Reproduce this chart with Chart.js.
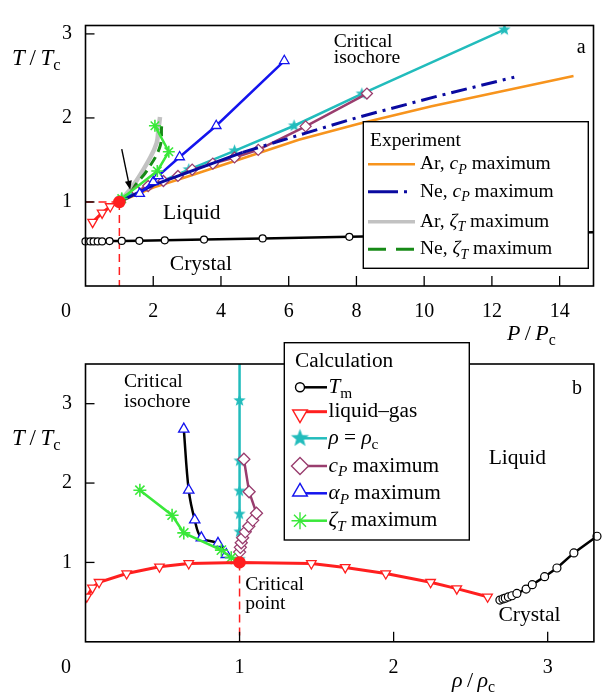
<!DOCTYPE html>
<html>
<head>
<meta charset="utf-8">
<script src="https://cdn.jsdelivr.net/npm/chart.js@4.4.1/dist/chart.umd.min.js"></script>
<style>
  html, body { margin: 0; padding: 0; background: #fff; }
  #wrap { position: relative; width: 602px; height: 695px; overflow: hidden; }
  canvas { position: absolute; left: 0; }
  #ca { top: 0; z-index: 1; }
  #cb { top: 335px; z-index: 2; }
</style>
</head>
<body>
<div id="wrap">
  <canvas id="ca" width="602" height="350"></canvas>
  <canvas id="cb" width="602" height="360"></canvas>
</div>
<script>
// ---------- (a) reduced temperature vs reduced pressure ----------
const critP = 1.0, critT = 1.0;
const meltP   = [0.0, 0.14, 0.24, 0.36, 0.49, 0.71, 1.07, 1.59, 2.34, 3.50, 5.23, 7.79, 15.0];
const meltT_a = [0.53, 0.53, 0.53, 0.53, 0.53, 0.535, 0.536, 0.538, 0.544, 0.552, 0.566, 0.585, 0.64];
const lgP   = [0.21, 0.49, 0.73, 1.0];
const lgT_a = [0.76, 0.87, 0.946, 1.0];
const isoP   = [1.0, 1.07, 3.05, 4.40, 6.16, 8.16, 12.37];
const isoT_a = [1.0, 1.04, 1.385, 1.609, 1.907, 2.287, 3.05];
const cpP   = [1.5, 1.85, 2.3, 2.73, 3.15, 3.76, 4.4, 5.1, 6.5, 8.31];
const cpT_a = [1.13, 1.19, 1.25, 1.31, 1.385, 1.456, 1.53, 1.62, 1.9, 2.29];
const apP   = [1.6, 2.0, 2.15, 2.78, 3.86, 5.87];
const apT_a = [1.1, 1.24, 1.31, 1.535, 1.907, 2.68];
const ztP   = [1.0, 1.07, 2.12, 2.46, 2.05];
const ztT_a = [1.0, 1.04, 1.368, 1.598, 1.907];
// experiment
const arCpP = [1.0, 2.0, 3.0, 5.1, 6.3, 8.07, 10.22, 14.41];
const arCpT = [1.0, 1.17, 1.3, 1.58, 1.74, 1.93, 2.14, 2.5];
const neCpP = [1.0, 2.0, 3.0, 4.64, 6.5, 8.07, 10.4, 12.66];
const neCpT = [1.0, 1.2, 1.35, 1.59, 1.82, 2.01, 2.26, 2.485];
const arZtP = [1.0, 1.27, 1.51, 1.9, 2.1, 2.15, 2.2];
const arZtT = [1.0, 1.125, 1.256, 1.52, 1.70, 1.85, 2.01];
const neZtP = [1.0, 1.32, 1.51, 1.81, 2.2, 2.25, 2.28];
const neZtT = [1.0, 1.11, 1.22, 1.37, 1.66, 1.91, 1.97];

// ---------- (b) reduced temperature vs reduced density ----------
const critRho = 1.0;
const meltRho = [2.69, 2.71, 2.725, 2.745, 2.768, 2.80, 2.86, 2.90, 2.98, 3.06, 3.17, 3.32];
const meltT_b = [0.526, 0.54, 0.55, 0.565, 0.58, 0.61, 0.664, 0.72, 0.82, 0.93, 1.12, 1.33];
const lgRho = [0.008, 0.045, 0.088, 0.267, 0.48, 0.67, 1.0, 1.466, 1.686, 1.949, 2.24, 2.41, 2.61];
const lgT_b = [0.567, 0.68, 0.75, 0.86, 0.945, 0.987, 1.0, 0.987, 0.937, 0.86, 0.75, 0.67, 0.567];
const isoRho = [1, 1, 1, 1, 1, 1, 1, 1];
const isoT_b = [1.0, 1.04, 1.385, 1.61, 1.9, 2.28, 3.04, 3.5];
const cpRho = [1.0, 1.005, 1.011, 1.02, 1.037, 1.06, 1.085, 1.11, 1.062, 1.028];
const cpT_b = [1.13, 1.19, 1.247, 1.31, 1.385, 1.456, 1.53, 1.62, 1.89, 2.30];
const apRho = [0.914, 0.86, 0.752, 0.709, 0.67, 0.638];
const apT_b = [1.1, 1.24, 1.31, 1.535, 1.91, 2.68];
const ztRho = [1.0, 0.946, 0.882, 0.638, 0.562, 0.353];
const ztT_b = [1.0, 1.06, 1.155, 1.372, 1.595, 1.91];

// axis ticks
const pTicks = { min: 0, max: 15, step: 2 };
const tTicksA = { min: 0, max: 3.1, step: 1 };
const rhoTicks = { min: 0, max: 3.3, step: 1 };
const tTicksB = { min: 0, max: 3.5, step: 1 };

// ---------- styling ----------
const SERIF = '"Liberation Serif", "Times New Roman", serif';
const RED = '#ff1f1f', CYAN = '#22bcbc', PURPLE = '#993d6e', BLUE = '#1414ee',
      LIME = '#3ae83a', ORANGE = '#f7941d', NAVY = '#0a0aa0', GRAY = '#c2c2c2',
      DKGREEN = '#178a17', BLACK = '#000';

function starImage(color, r) {
  const c = document.createElement('canvas');
  const s = Math.ceil(2 * r + 2);
  c.width = c.height = s;
  const g = c.getContext('2d');
  g.fillStyle = color;
  g.beginPath();
  for (let k = 0; k < 10; k++) {
    const rad = k % 2 ? r * 0.42 : r;
    const a = -Math.PI / 2 + k * Math.PI / 5;
    g.lineTo(s / 2 + rad * Math.cos(a), s / 2 + rad * Math.sin(a));
  }
  g.closePath();
  g.fill();
  return c;
}
const STAR = starImage(CYAN, 6.5);
const STAR_BIG = starImage(CYAN, 9.5);

function pts(xs, ys) { return xs.map((x, i) => ({ x: x, y: ys[i] })); }
function hideAt(idx, r) { return ctx => (idx.includes(ctx.dataIndex) ? 0 : r); }
function series(label, xs, ys, o) {
  return Object.assign({
    label: label, data: pts(xs, ys), showLine: true, fill: false,
    borderWidth: 2.5, pointRadius: 0, pointHitRadius: 0, tension: 0
  }, o);
}
const dashRed = { borderColor: RED, borderWidth: 1.5, borderDash: [8, 5] };
const whiteMark = (color, style, r, extra) => Object.assign({
  pointStyle: style, pointRadius: r, pointBorderColor: color,
  pointBackgroundColor: '#fff', pointBorderWidth: 1.3
}, extra || {});

// ---------- rich text ----------
function drawRich(ctx, parts, x, y, size, align) {
  const seg = parts.map(p => {
    const f = p[1] || '';
    const sub = f.includes('s'), it = f.includes('i');
    const fs = sub ? size * 0.72 : size;
    const font = (it ? 'italic ' : '') + fs + 'px ' + SERIF;
    ctx.font = font;
    return { t: p[0], font: font, w: ctx.measureText(p[0]).width, dy: sub ? size * 0.3 : 0 };
  });
  const total = seg.reduce((s, p) => s + p.w, 0);
  let cx = align === 'center' ? x - total / 2 : align === 'right' ? x - total : x;
  ctx.textAlign = 'left';
  ctx.textBaseline = 'middle';
  ctx.fillStyle = '#000';
  seg.forEach(p => { ctx.font = p.font; ctx.fillText(p.t, cx, y + p.dy); cx += p.w; });
}

function drawLegend(chart, L) {
  const ctx = chart.ctx;
  ctx.save();
  ctx.fillStyle = '#fff';
  ctx.fillRect(L.box[0], L.box[1], L.box[2], L.box[3]);
  ctx.strokeStyle = '#000';
  ctx.lineWidth = 1.4;
  ctx.strokeRect(L.box[0], L.box[1], L.box[2], L.box[3]);
  drawRich(ctx, [[L.title]], L.titleAt[0], L.titleAt[1], L.titleSize, 'left');
  L.rows.forEach(row => {
    const ds = chart.data.datasets.find(d => d.label === row.ds);
    ctx.save();
    ctx.strokeStyle = row.color || ds.borderColor;
    ctx.lineWidth = row.width || ds.borderWidth;
    ctx.setLineDash(row.dash || ds.borderDash || []);
    ctx.beginPath();
    ctx.moveTo(L.sample[0], row.y);
    ctx.lineTo(L.sample[1], row.y);
    ctx.stroke();
    ctx.restore();
    if (row.r) {
      ctx.save();
      ctx.strokeStyle = ds.pointBorderColor;
      ctx.fillStyle = ds.pointBackgroundColor || '#fff';
      ctx.lineWidth = 1.4;
      Chart.helpers.drawPoint(ctx, {
        pointStyle: row.style || ds.pointStyle, radius: row.r,
        rotation: ds.pointRotation || 0, borderWidth: 1.4
      }, L.sample[0], row.y + (row.dy || 0));
      ctx.restore();
    }
    drawRich(ctx, row.parts, L.textX, row.y, L.size, 'left');
  });
  ctx.restore();
}

// frame, inward ticks, notes, titles and legend for one panel
function makeDecor(D) {
  return {
    id: 'panelDecor',
    afterDraw(chart) {
      const ctx = chart.ctx;
      const a = chart.chartArea;
      const xs = chart.scales.x, ys = chart.scales.y;
      ctx.save();
      ctx.strokeStyle = '#000';
      ctx.lineWidth = 1.6;
      ctx.strokeRect(a.left, a.top, a.right - a.left, a.bottom - a.top);
      ctx.lineWidth = 1.3;
      xs.ticks.forEach(t => {
        if (t.value === 0) return;
        const px = xs.getPixelForValue(t.value);
        ctx.beginPath(); ctx.moveTo(px, a.bottom); ctx.lineTo(px, a.bottom - 10); ctx.stroke();
      });
      ys.ticks.forEach(t => {
        if (t.value === 0) return;
        const py = ys.getPixelForValue(t.value);
        ctx.beginPath(); ctx.moveTo(a.left, py); ctx.lineTo(a.left + 9, py); ctx.stroke();
      });
      // shared origin label
      drawRich(ctx, [['0']], a.left - 19.5, a.bottom + 26, 20, 'center');
      // in-plot notes
      D.notes.forEach(n => drawRich(ctx, n.parts, xs.getPixelForValue(n.x), ys.getPixelForValue(n.y), n.size, n.align || 'left'));
      // arrow
      if (D.arrow) {
        const x0 = xs.getPixelForValue(D.arrow.from[0]), y0 = ys.getPixelForValue(D.arrow.from[1]);
        const x1 = xs.getPixelForValue(D.arrow.to[0]), y1 = ys.getPixelForValue(D.arrow.to[1]);
        const ang = Math.atan2(y1 - y0, x1 - x0), hl = 9, hw = 3.5;
        ctx.strokeStyle = '#000'; ctx.fillStyle = '#000'; ctx.lineWidth = 1.4;
        ctx.beginPath(); ctx.moveTo(x0, y0);
        ctx.lineTo(x1 - hl * Math.cos(ang), y1 - hl * Math.sin(ang)); ctx.stroke();
        ctx.beginPath(); ctx.moveTo(x1, y1);
        ctx.lineTo(x1 - hl * Math.cos(ang) + hw * Math.sin(ang), y1 - hl * Math.sin(ang) - hw * Math.cos(ang));
        ctx.lineTo(x1 - hl * Math.cos(ang) - hw * Math.sin(ang), y1 - hl * Math.sin(ang) + hw * Math.cos(ang));
        ctx.closePath(); ctx.fill();
      }
      // axis titles
      drawRich(ctx, D.yTitle.parts, D.yTitle.x, D.yTitle.y, D.yTitle.size, 'left');
      drawRich(ctx, D.xTitle.parts, D.xTitle.x, D.xTitle.y, D.xTitle.size, 'left');
      if (D.legend) drawLegend(chart, D.legend);
      ctx.restore();
    }
  };
}

function axisX(t, h) {
  return {
    type: 'linear', position: 'bottom', min: t.min, max: t.max,
    grid: { display: false, drawTicks: false }, border: { display: false },
    ticks: {
      stepSize: t.step, includeBounds: false, padding: 14, color: '#000', maxRotation: 0,
      autoSkip: false, font: { family: SERIF, size: 20 }, callback: v => (v === 0 ? '' : v)
    },
    afterFit: s => { s.height = h; }
  };
}
function axisY(t, w) {
  return {
    type: 'linear', position: 'left', min: t.min, max: t.max,
    grid: { display: false, drawTicks: false }, border: { display: false },
    ticks: {
      stepSize: t.step, includeBounds: false, padding: 13.5, color: '#000',
      autoSkip: false, font: { family: SERIF, size: 20 }, callback: v => (v === 0 ? '' : v)
    },
    afterFit: s => { s.width = w; }
  };
}

const T_OVER_TC = [['T', 'i'], ['\u2009/\u2009'], ['T', 'i'], ['c', 's']];
const cpParts = (pre) => [[pre], ['c', 'i'], ['P', 'is'], [' maximum']];
const ztParts = (pre) => [[pre], ['\u03B6', 'i'], ['T', 'is'], [' maximum']];

// ---------- panel a ----------
const datasetsA = [
  series('critical point', [critP], [critT], { showLine: false, pointRadius: 5, pointBackgroundColor: RED, pointBorderColor: RED }),
  series('liquid–gas', lgP, lgT_a, Object.assign({ borderColor: RED, borderWidth: 3 },
    whiteMark(RED, 'triangle', hideAt([lgP.length - 1], 5.5), { pointRotation: 180 }))),
  series('ζT maximum', ztP, ztT_a, { borderColor: LIME, borderWidth: 2.5, pointStyle: 'star',
    pointRadius: hideAt([0], 6), pointBorderColor: LIME, pointBorderWidth: 1.6 }),
  series('αP maximum', apP, apT_a, Object.assign({ borderColor: BLUE, borderWidth: 2.5 }, whiteMark(BLUE, 'triangle', 5.5))),
  series('Ne, cP maximum', neCpP, neCpT, { borderColor: NAVY, borderWidth: 3,
    segment: { borderDash: c => (c.p0DataIndex < 3 ? undefined : [16, 6, 3, 6]) } }),
  series('cP maximum', cpP, cpT_a, Object.assign({ borderColor: PURPLE, borderWidth: 2.5 }, whiteMark(PURPLE, 'rectRot', 5.5))),
  series('ρ = ρc', isoP, isoT_a, { borderColor: CYAN, borderWidth: 2.5, pointStyle: STAR, pointRadius: hideAt([0], 6) }),
  series('Ar, cP maximum', arCpP, arCpT, { borderColor: ORANGE, borderWidth: 2.5 }),
  series('Ne, ζT maximum', neZtP, neZtT, { borderColor: DKGREEN, borderWidth: 3, borderDash: [10, 6], tension: 0.4 }),
  series('Ar, ζT maximum', arZtP, arZtT, { borderColor: GRAY, borderWidth: 4.5, tension: 0.4 }),
  series('Tm', meltP, meltT_a, Object.assign({ borderColor: BLACK, borderWidth: 2.5, clip: false },
    whiteMark(BLACK, 'circle', hideAt([meltP.length - 1], 3.5), { pointBorderWidth: 1.2 }))),
  series('critical isobar', [0, critP], [critT, critT], dashRed),
  series('critical isotherm', [critP, critP], [critT, 0], dashRed)
];

const decorA = {
  notes: [
    { parts: [['Liquid']], x: 2.29, y: 0.865, size: 21.5 },
    { parts: [['Crystal']], x: 2.49, y: 0.257, size: 21.5 },
    { parts: [['Critical']], x: 7.33, y: 2.91, size: 19.6 },
    { parts: [['isochore']], x: 7.33, y: 2.71, size: 19.6 },
    { parts: [['a']], x: 14.64, y: 2.83, size: 20, align: 'center' }
  ],
  arrow: { from: [1.07, 1.63], to: [1.32, 1.144] },
  yTitle: { parts: T_OVER_TC, x: 12, y: 59, size: 23 },
  xTitle: { parts: [['P', 'i'], ['\u2009/\u2009'], ['P', 'i'], ['c', 's']], x: 507, y: 334, size: 22 },
  legend: {
    box: [363.3, 121.7, 225, 146.6], title: 'Experiment', titleAt: [370, 141], titleSize: 19.5,
    size: 19.5, sample: [368, 415], textX: 420,
    rows: [
      { y: 164.3, ds: 'Ar, cP maximum', parts: cpParts('Ar, ') },
      { y: 191.7, ds: 'Ne, cP maximum', dash: [30, 6, 3, 40], parts: cpParts('Ne, ') },
      { y: 221.7, ds: 'Ar, ζT maximum', width: 3.5, parts: ztParts('Ar, ') },
      { y: 249.3, ds: 'Ne, ζT maximum', dash: [18, 10], parts: ztParts('Ne, ') }
    ]
  }
};

new Chart(document.getElementById('ca'), {
  type: 'scatter',
  data: { datasets: datasetsA },
  options: {
    responsive: false, animation: false, devicePixelRatio: 1, events: [],
    layout: { padding: { top: 7.5, right: 6, left: 0, bottom: 0 } },
    scales: { x: axisX(pTicks, 64), y: axisY(tTicksA, 85.5) },
    plugins: { legend: { display: false }, tooltip: { enabled: false } }
  },
  plugins: [makeDecor(decorA)]
});

// ---------- panel b ----------
const datasetsB = [
  series('critical point', [critRho], [critT], { showLine: false, pointRadius: 5, pointBackgroundColor: RED, pointBorderColor: RED }),
  series('liquid–gas', lgRho, lgT_b, Object.assign({ borderColor: RED, borderWidth: 3 },
    whiteMark(RED, 'triangle', hideAt([lgRho.indexOf(critRho)], 5.5), { pointRotation: 180 }))),
  series('ζT maximum', ztRho, ztT_b, { borderColor: LIME, borderWidth: 2.5, pointStyle: 'star',
    pointRadius: hideAt([0], 6.5), pointBorderColor: LIME, pointBorderWidth: 1.6 }),
  series('αP maximum', apRho, apT_b, Object.assign({ borderColor: BLACK, borderWidth: 2.5, tension: 0.35 }, whiteMark(BLUE, 'triangle', 6))),
  series('cP maximum', cpRho, cpT_b, Object.assign({ borderColor: PURPLE, borderWidth: 2.5 }, whiteMark(PURPLE, 'rectRot', 6))),
  series('ρ = ρc', isoRho, isoT_b, { borderColor: CYAN, borderWidth: 2.5, pointStyle: STAR,
    pointRadius: hideAt([0, isoRho.length - 1], 6) }),
  series('Tm', meltRho, meltT_b, Object.assign({ borderColor: BLACK, borderWidth: 2.5, clip: false },
    whiteMark(BLACK, 'circle', 4, { pointBorderWidth: 1.2 }))),
  series('critical isotherm', [critRho, critRho], [critT, 0], dashRed)
];

const decorB = {
  notes: [
    { parts: [['Critical']], x: 0.25, y: 3.27, size: 19.6 },
    { parts: [['isochore']], x: 0.25, y: 3.02, size: 19.6 },
    { parts: [['Critical']], x: 1.037, y: 0.714, size: 19.6 },
    { parts: [['point']], x: 1.037, y: 0.475, size: 19.6 },
    { parts: [['Liquid']], x: 2.617, y: 2.31, size: 21.5 },
    { parts: [['Crystal']], x: 2.68, y: 0.337, size: 21.5 },
    { parts: [['b']], x: 3.19, y: 3.19, size: 20, align: 'center' }
  ],
  yTitle: { parts: T_OVER_TC, x: 12, y: 104, size: 23 },
  xTitle: { parts: [['\u03C1', 'i'], ['\u2009/\u2009'], ['\u03C1', 'i'], ['c', 's']], x: 452, y: 346, size: 22 },
  legend: {
    box: [284.3, 7.7, 185, 197.3], title: 'Calculation', titleAt: [295, 26.7], titleSize: 21.3,
    size: 21.3, sample: [300, 327], textX: 328.5,
    rows: [
      { y: 52.3, ds: 'Tm', r: 4.5, parts: [['T', 'i'], ['m', 's']] },
      { y: 76.7, ds: 'liquid–gas', r: 8.5, dy: 2.5, parts: [['liquid–gas']] },
      { y: 103.3, ds: 'ρ = ρc', r: 9, style: STAR_BIG, parts: [['\u03C1', 'i'], [' = '], ['\u03C1', 'i'], ['c', 's']] },
      { y: 131, ds: 'cP maximum', r: 8.5, parts: cpParts('') },
      { y: 158.3, ds: 'αP maximum', r: 8.5, dy: -1.5, color: BLUE, parts: [['\u03B1', 'i'], ['P', 'is'], [' maximum']] },
      { y: 185.7, ds: 'ζT maximum', r: 8.5, parts: ztParts('') }
    ]
  }
};

new Chart(document.getElementById('cb'), {
  type: 'scatter',
  data: { datasets: datasetsB },
  options: {
    responsive: false, animation: false, devicePixelRatio: 1, events: [],
    layout: { padding: { top: 29, right: 6, left: 0, bottom: 0 } },
    scales: { x: axisX(rhoTicks, 53.2), y: axisY(tTicksB, 85.5) },
    plugins: { legend: { display: false }, tooltip: { enabled: false } }
  },
  plugins: [makeDecor(decorB)]
});
</script>
</body>
</html>
